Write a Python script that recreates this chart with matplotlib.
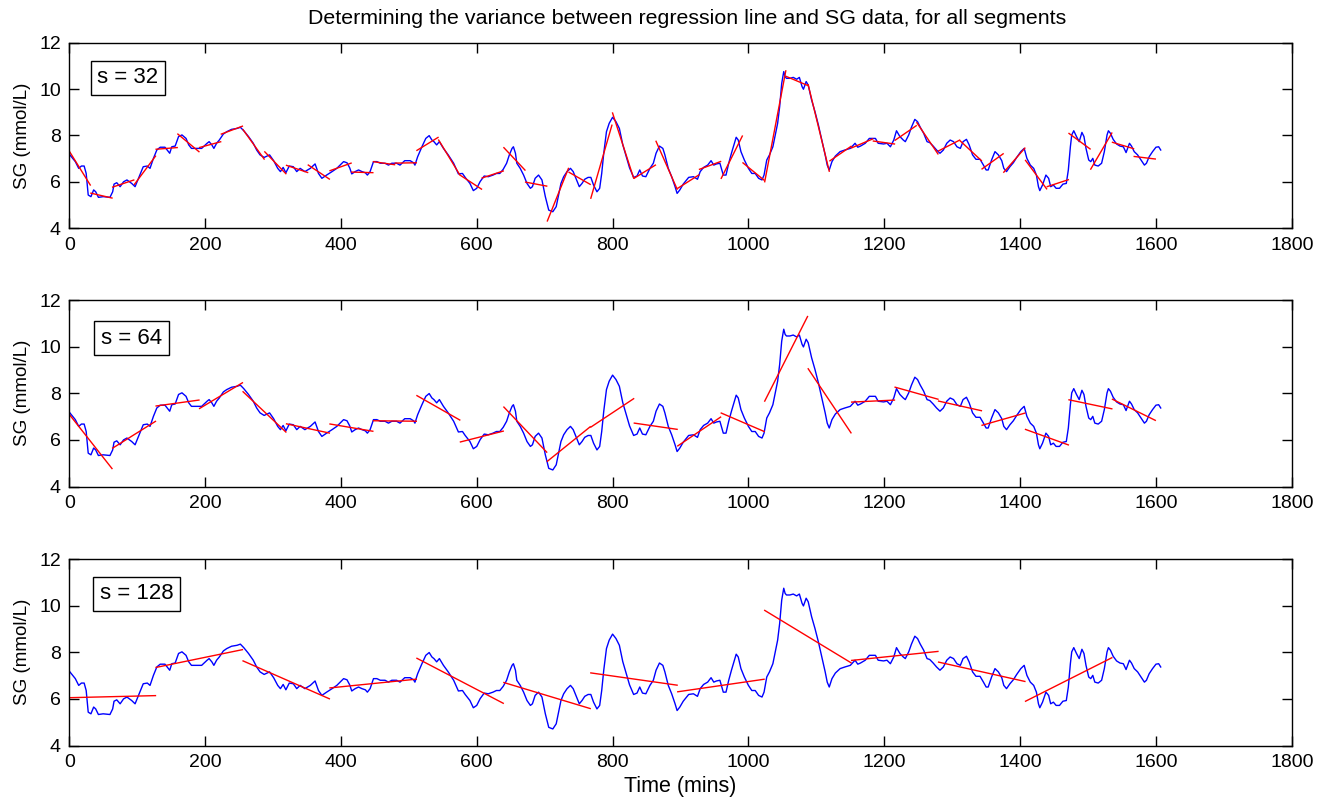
import numpy as np
import matplotlib
matplotlib.use("Agg")
import matplotlib.pyplot as plt

plt.rcParams['font.family'] = ['Liberation Sans', 'DejaVu Sans']

# SG trace (time in minutes, SG in mmol/L)
time_min = [1, 9, 14, 18, 22, 25, 28, 32, 36, 39, 43, 50, 60, 64, 66, 70, 75, 80, 85, 92,
            97, 102, 109, 115, 119, 124, 129, 134, 141, 148, 151, 156, 161, 166, 172, 176, 180, 188, 195, 203,
            206, 210, 213, 217, 221, 227, 232, 239, 247, 252, 257, 264, 271, 276, 281, 287, 295, 301, 307, 311,
            315, 319, 324, 330, 335, 340, 347, 355, 362, 367, 372, 379, 387, 394, 404, 409, 413, 416, 421, 426,
            431, 436, 439, 443, 448, 453, 458, 465, 470, 475, 482, 487, 494, 502, 507, 509, 513, 519, 525, 530,
            534, 537, 541, 545, 551, 558, 566, 573, 579, 583, 590, 595, 600, 605, 611, 617, 624, 629, 634, 639,
            644, 648, 652, 654, 657, 659, 664, 669, 674, 679, 682, 686, 691, 696, 701, 706, 712, 717, 720, 724,
            728, 733, 738, 742, 747, 751, 755, 759, 764, 768, 772, 777, 781, 784, 787, 791, 795, 800, 805, 810,
            815, 820, 825, 831, 836, 840, 844, 849, 855, 860, 864, 869, 874, 877, 882, 887, 892, 895, 899, 904,
            912, 919, 925, 929, 934, 940, 945, 949, 953, 958, 963, 967, 971, 975, 982, 985, 989, 994, 1000, 1005,
            1010, 1015, 1020, 1023, 1027, 1031, 1036, 1039, 1043, 1046, 1049, 1052, 1054, 1056, 1061, 1066, 1071, 1075, 1079, 1081,
            1085, 1088, 1093, 1098, 1103, 1108, 1113, 1116, 1119, 1123, 1128, 1135, 1142, 1150, 1157, 1161, 1165, 1172, 1178, 1187,
            1191, 1199, 1204, 1209, 1214, 1218, 1223, 1228, 1231, 1236, 1240, 1245, 1249, 1253, 1258, 1263, 1267, 1272, 1277, 1282,
            1287, 1292, 1297, 1302, 1307, 1312, 1316, 1321, 1325, 1330, 1335, 1341, 1346, 1350, 1353, 1358, 1363, 1368, 1373, 1376,
            1380, 1385, 1390, 1395, 1401, 1406, 1410, 1415, 1420, 1424, 1427, 1429, 1433, 1438, 1442, 1445, 1449, 1453, 1458, 1463,
            1468, 1471, 1474, 1476, 1479, 1483, 1487, 1491, 1494, 1497, 1501, 1504, 1507, 1510, 1515, 1520, 1524, 1528, 1530, 1533,
            1537, 1542, 1547, 1552, 1556, 1561, 1564, 1568, 1573, 1578, 1583, 1586, 1590, 1595, 1600, 1604, 1607]
sg_mmol = [7.16, 6.87, 6.58, 6.68, 6.68, 6.36, 5.43, 5.36, 5.65, 5.57, 5.33, 5.36, 5.33, 5.57, 5.90, 5.96, 5.79, 6.00, 6.08, 5.93,
           5.79, 6.15, 6.65, 6.68, 6.58, 7.01, 7.37, 7.49, 7.49, 7.23, 7.51, 7.54, 7.95, 8.02, 7.87, 7.59, 7.44, 7.44, 7.44, 7.66,
           7.73, 7.59, 7.44, 7.66, 7.80, 8.06, 8.16, 8.26, 8.30, 8.35, 8.20, 7.95, 7.66, 7.37, 7.16, 7.05, 7.16, 6.91, 6.58, 6.44,
           6.62, 6.39, 6.68, 6.65, 6.44, 6.58, 6.44, 6.58, 6.77, 6.36, 6.15, 6.29, 6.44, 6.58, 6.87, 6.82, 6.60, 6.34, 6.44, 6.51,
           6.44, 6.39, 6.29, 6.44, 6.87, 6.87, 6.80, 6.80, 6.72, 6.80, 6.80, 6.72, 6.91, 6.91, 6.82, 6.72, 7.08, 7.49, 7.87, 7.99,
           7.80, 7.73, 7.59, 7.73, 7.44, 7.16, 6.80, 6.34, 6.36, 6.19, 5.93, 5.62, 5.72, 6.01, 6.25, 6.22, 6.29, 6.36, 6.36, 6.54,
           6.80, 7.16, 7.44, 7.51, 7.23, 6.80, 6.58, 6.29, 5.93, 5.72, 5.79, 6.15, 6.29, 6.08, 5.36, 4.78, 4.71, 4.93, 5.36, 5.93,
           6.22, 6.44, 6.58, 6.44, 6.08, 5.79, 5.93, 6.11, 6.19, 6.19, 5.86, 5.57, 5.72, 6.36, 7.23, 8.16, 8.52, 8.78, 8.59, 8.30,
           7.60, 7.10, 6.60, 6.19, 6.25, 6.51, 6.25, 6.22, 6.58, 6.80, 7.23, 7.54, 7.44, 7.16, 6.58, 6.22, 5.79, 5.50, 5.65, 5.90,
           6.19, 6.22, 6.11, 6.44, 6.62, 6.72, 6.91, 6.72, 6.77, 6.80, 6.29, 6.29, 6.80, 7.23, 7.92, 7.80, 7.30, 6.94, 6.58, 6.36,
           6.36, 6.15, 6.08, 6.29, 6.94, 7.16, 7.51, 7.95, 8.52, 9.24, 10.24, 10.75, 10.53, 10.46, 10.46, 10.50, 10.42, 10.50, 10.10, 9.99,
           10.32, 10.17, 9.53, 9.02, 8.45, 7.80, 7.16, 6.72, 6.51, 6.87, 7.11, 7.30, 7.37, 7.44, 7.66, 7.49, 7.54, 7.66, 7.87, 7.87,
           7.66, 7.63, 7.66, 7.51, 7.80, 8.20, 7.95, 7.80, 7.73, 8.02, 8.35, 8.69, 8.59, 8.35, 8.09, 7.73, 7.69, 7.54, 7.37, 7.23,
           7.37, 7.66, 7.80, 7.73, 7.51, 7.44, 7.73, 7.83, 7.59, 7.16, 6.97, 6.97, 6.72, 6.51, 6.51, 6.94, 7.30, 7.16, 6.91, 6.58,
           6.44, 6.65, 6.82, 7.05, 7.30, 7.44, 7.01, 6.72, 6.58, 6.29, 5.79, 5.62, 5.86, 6.29, 6.15, 5.79, 5.86, 5.72, 5.72, 5.90,
           5.93, 6.51, 7.51, 8.02, 8.20, 7.95, 7.73, 8.13, 7.95, 7.44, 6.94, 6.87, 7.01, 6.72, 6.68, 6.80, 7.30, 8.02, 8.20, 8.09,
           7.83, 7.63, 7.54, 7.51, 7.26, 7.66, 7.54, 7.30, 7.16, 6.94, 6.72, 6.80, 7.08, 7.30, 7.49, 7.51, 7.37]

segment_sizes = [32, 64, 128]
panel_labels = ["s = 32", "s = 64", "s = 128"]
x_ticks = list(range(0, 1801, 200))
y_ticks = [4, 6, 8, 10, 12]

t = np.array(time_min, dtype=float)
sg = np.array(sg_mmol)
n_samples = int(t[-1]) + 1

fig = plt.figure(figsize=(13.32, 8.01), dpi=100)
W, H = 1332.0, 801.0
# axes boxes in pixels: (left, top, right, bottom)
boxes = [(69.2, 42.6, 1291.8, 228.2),
         (69.2, 300.1, 1291.8, 486.5),
         (69.2, 559.1, 1291.8, 745.5)]
label_pos = [(0.023, 0.81), (0.026, 0.795), (0.025, 0.813)]

for i, s in enumerate(segment_sizes):
    l, tp, r, b = boxes[i]
    ax = fig.add_axes([l / W, 1 - b / H, (r - l) / W, (b - tp) / H])
    ax.plot(t, sg, color='#0000ff', lw=1.0)

    # linear regression on every full segment of s minutes
    for start in range(0, n_samples - s + 1, s):
        stop = start + s - 1
        m = (t >= start) & (t <= stop)
        if m.sum() < 2:
            continue
        k, c = np.polyfit(t[m], sg[m], 1)
        xs = np.array([start, stop])
        ax.plot(xs, k * xs + c, color='#ff0000', lw=1.0)

    ax.set_xlim(0, 1800)
    ax.set_ylim(4, 12)
    ax.set_xticks(x_ticks)
    ax.set_yticks(y_ticks)
    ax.tick_params(direction='in', length=7, width=1, top=True, right=True,
                   labelsize=14, pad=6)
    for sp in ax.spines.values():
        sp.set_linewidth(1.0)
    ax.set_ylabel("SG (mmol/L)", fontsize=13.5, labelpad=6)
    ax.text(label_pos[i][0], label_pos[i][1], panel_labels[i], transform=ax.transAxes,
            ha='left', va='center', fontsize=16,
            bbox=dict(boxstyle='square,pad=0.3', fc='white', ec='black', lw=1))
    if i == 2:
        ax.set_xlabel("Time (mins)", fontsize=15.5, labelpad=4)

fig.text(687.5 / W, 1 - 18 / H,
         "Determining the variance between regression line and SG data, for all segments",
         ha='center', va='center', fontsize=15.4)

plt.savefig('out.png', dpi=100)
plt.close()
